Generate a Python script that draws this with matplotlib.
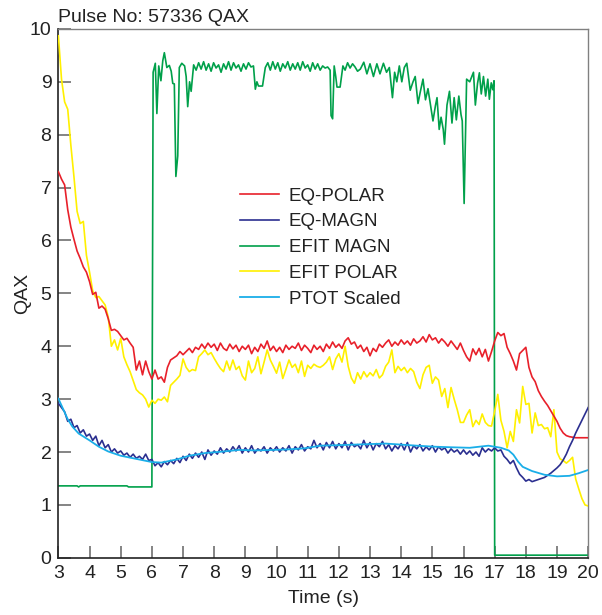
import numpy as np
import matplotlib
matplotlib.use("Agg")
import matplotlib.pyplot as plt

plt.rcParams['font.family'] = ['Liberation Sans', 'DejaVu Sans']

# ---------------------------------- Data ------------------------------------------ #
# EQ-POLAR, EQ-MAGN and EFIT POLAR sampled every 0.1 s from 3.0 s to 20.0 s
time_grid = np.linspace(3.0, 20.0, 171)

eq_polar = [
    7.30, 7.16, 7.05, 6.58, 6.25, 6.02, 5.80, 5.66, 5.50, 5.40,
    5.22, 4.98, 5.02, 4.72, 4.76, 4.70, 4.52, 4.30, 4.32, 4.28,
    4.20, 4.12, 4.15, 4.06, 3.98, 3.55, 3.72, 3.46, 3.72, 3.52,
    3.38, 3.55, 3.38, 3.42, 3.32, 3.60, 3.74, 3.78, 3.82, 3.90,
    3.84, 3.90, 3.96, 3.88, 3.98, 3.94, 4.04, 3.96, 4.06, 3.98,
    4.04, 3.92, 4.06, 3.96, 3.92, 4.04, 3.95, 4.02, 3.90, 4.00,
    3.94, 4.02, 3.86, 3.98, 3.90, 4.04, 3.96, 4.10, 3.92, 4.00,
    3.90, 3.98, 3.88, 4.02, 3.94, 4.00, 3.96, 4.06, 3.92, 4.02,
    3.96, 3.88, 4.02, 3.94, 4.00, 3.90, 4.04, 3.96, 4.08, 3.98,
    4.04, 3.96, 4.10, 4.16, 4.04, 4.08, 3.96, 4.02, 3.90, 3.98,
    3.82, 3.96, 3.90, 4.04, 3.98, 4.06, 4.12, 4.00, 4.08, 4.02,
    4.12, 4.04, 4.10, 4.02, 4.14, 4.06, 4.10, 4.18, 4.08, 4.22,
    4.12, 4.16, 4.06, 4.14, 4.08, 4.00, 4.10, 4.02, 3.94, 4.06,
    3.92, 3.80, 3.72, 3.95, 3.84, 3.96, 3.80, 3.94, 3.72, 3.90,
    4.10, 4.26, 4.20, 4.24, 3.98, 3.86, 3.72, 3.55, 3.86, 3.92,
    3.98, 3.60, 3.42, 3.33, 3.16, 3.05, 2.96, 2.88, 2.78, 2.68,
    2.58, 2.45, 2.36, 2.31, 2.29, 2.28, 2.27, 2.27, 2.27, 2.27,
    2.27]

eq_magn = [
    2.92, 2.84, 2.76, 2.58, 2.62, 2.46, 2.50, 2.36, 2.42, 2.30,
    2.34, 2.22, 2.30, 2.12, 2.22, 2.08, 2.14, 2.00, 2.06, 1.98,
    2.02, 1.94, 1.98, 1.90, 1.96, 1.88, 1.92, 1.86, 1.96, 1.84,
    1.86, 1.74, 1.80, 1.72, 1.82, 1.76, 1.84, 1.78, 1.88, 1.80,
    1.92, 1.84, 1.96, 1.88, 1.98, 1.90, 2.00, 1.86, 2.04, 1.94,
    2.02, 1.96, 2.08, 1.98, 2.06, 2.00, 2.10, 2.02, 2.12, 1.98,
    2.08, 2.00, 2.12, 1.98, 2.06, 2.02, 2.10, 1.98, 2.08, 2.02,
    2.10, 2.00, 2.08, 2.02, 2.12, 1.98, 2.10, 2.04, 2.14, 2.02,
    2.10, 2.06, 2.22, 2.08, 2.16, 2.04, 2.18, 2.08, 2.20, 2.06,
    2.16, 2.08, 2.20, 2.04, 2.18, 2.10, 2.14, 2.06, 2.22, 2.08,
    2.18, 2.04, 2.16, 2.10, 2.20, 2.06, 2.14, 2.02, 2.12, 2.06,
    2.16, 2.04, 2.18, 2.00, 2.12, 2.06, 2.14, 2.02, 2.10, 2.04,
    2.12, 2.00, 2.10, 2.04, 2.08, 1.98, 2.06, 2.00, 2.04, 1.96,
    2.04, 1.96, 2.02, 1.94, 2.00, 1.92, 2.08, 2.00, 2.06, 2.02,
    2.08, 2.02, 2.04, 1.92, 1.86, 1.78, 1.84, 1.70, 1.58, 1.52,
    1.45, 1.48, 1.44, 1.46, 1.48, 1.50, 1.52, 1.56, 1.60, 1.65,
    1.70, 1.76, 1.85, 1.96, 2.10, 2.22, 2.36, 2.48, 2.60, 2.72,
    2.84]

efit_polar = [
    9.87, 9.05, 8.62, 8.48, 7.80, 7.20, 6.55, 6.32, 6.36, 5.72,
    5.40, 5.05, 4.92, 4.94, 4.86, 4.78, 4.55, 4.00, 4.12, 3.93,
    4.15, 3.80, 3.65, 3.52, 3.35, 3.18, 3.12, 3.08, 3.00, 2.85,
    2.98, 2.92, 3.00, 2.98, 3.04, 2.95, 3.26, 3.32, 3.38, 3.45,
    3.76, 3.60, 3.52, 3.56, 3.54, 3.80, 3.86, 3.93, 3.84, 3.88,
    3.77, 3.67, 3.58, 3.52, 3.72, 3.55, 3.74, 3.56, 3.62, 3.44,
    3.36, 3.72, 3.50, 3.58, 3.80, 3.48, 3.70, 3.93, 3.74, 3.62,
    3.49, 3.70, 3.39, 3.56, 3.74, 3.60, 3.66, 3.50, 3.72, 3.43,
    3.64, 3.58, 3.66, 3.62, 3.60, 3.64, 3.70, 3.80, 3.56, 3.76,
    3.86, 3.70, 4.00, 3.62, 3.40, 3.30, 3.50, 3.38, 3.52, 3.42,
    3.50, 3.44, 3.56, 3.40, 3.46, 3.62, 3.70, 3.93, 3.50, 3.62,
    3.54, 3.60, 3.50, 3.58, 3.52, 3.32, 3.20, 3.46, 3.60, 3.64,
    3.30, 3.42, 3.36, 3.05, 3.20, 2.84, 3.22, 3.00, 2.80, 2.56,
    2.56, 2.70, 2.80, 2.48, 2.60, 2.52, 2.72, 2.56, 2.50, 2.49,
    2.77, 3.09, 2.60, 2.39, 2.08, 2.39, 2.20, 2.80, 2.55, 3.24,
    2.90, 2.92, 2.36, 2.74, 2.50, 2.52, 2.44, 2.46, 2.29, 2.80,
    2.00, 1.87, 1.84, 1.79, 1.84, 1.90, 1.49, 1.30, 1.12, 1.00,
    0.98]

# EFIT MAGN, irregular sampling
efit_magn_t = [
    3.00, 3.60, 3.65, 3.70, 5.20, 5.25, 6.00,
    6.04, 6.11, 6.16, 6.22, 6.29, 6.35, 6.40, 6.48, 6.56, 6.62, 6.67, 6.72,
    6.77, 6.83, 6.88, 6.96, 7.05, 7.10, 7.15, 7.21, 7.26, 7.34, 7.42, 7.50,
    7.58, 7.66, 7.74, 7.82, 7.90, 7.98, 8.06, 8.14, 8.22, 8.30, 8.38, 8.46,
    8.54, 8.62, 8.70, 8.78, 8.86, 8.94, 9.02, 9.10, 9.18, 9.26, 9.32, 9.37,
    9.42, 9.55, 9.64, 9.72, 9.80, 9.88, 9.96, 10.04, 10.12, 10.20, 10.28,
    10.36, 10.44, 10.52, 10.60, 10.68, 10.76, 10.84, 10.92, 11.00, 11.08,
    11.16, 11.24, 11.32, 11.40, 11.48, 11.56, 11.64, 11.72, 11.75, 11.80,
    11.85, 11.90, 11.94, 12.04, 12.13, 12.20, 12.28, 12.36, 12.44, 12.52,
    12.60, 12.69, 12.80, 12.90, 13.00, 13.11, 13.22, 13.32, 13.43, 13.53,
    13.62, 13.72, 13.79, 13.86, 13.94, 14.02, 14.10, 14.18, 14.29, 14.38,
    14.45, 14.54, 14.61, 14.70, 14.78, 14.86, 14.95, 15.02, 15.10, 15.15,
    15.22, 15.28, 15.35, 15.39, 15.47, 15.55, 15.63, 15.70, 15.77, 15.85,
    15.92, 15.96, 16.02, 16.10, 16.20, 16.32, 16.38, 16.45, 16.51, 16.57,
    16.64, 16.71, 16.78, 16.83, 16.89, 16.94, 16.98, 17.00, 20.00]
efit_magn = [
    1.36, 1.36, 1.34, 1.36, 1.36, 1.34, 1.34,
    9.18, 9.35, 8.40, 9.30, 9.02, 9.40, 9.55, 9.27, 9.31, 9.20, 8.97, 8.96,
    7.21, 7.60, 9.27, 9.35, 9.30, 9.10, 8.53, 9.00, 8.82, 9.32, 9.22, 9.36,
    9.24, 9.38, 9.22, 9.34, 9.20, 9.36, 9.26, 9.32, 9.18, 9.34, 9.24, 9.38,
    9.22, 9.36, 9.26, 9.32, 9.20, 9.34, 9.24, 9.36, 9.28, 9.30, 8.86, 9.00,
    8.92, 8.92, 9.27, 9.36, 9.22, 9.38, 9.24, 9.36, 9.20, 9.34, 9.26,
    9.38, 9.22, 9.34, 9.24, 9.36, 9.22, 9.38, 9.26, 9.32, 9.20,
    9.36, 9.24, 9.34, 9.22, 9.30, 9.26, 9.28, 9.22, 8.36, 8.30,
    9.30, 9.10, 8.90, 8.90, 9.30, 9.22, 9.36, 9.26, 9.34, 9.28,
    9.20, 9.24, 9.37, 9.15, 9.34, 9.10, 9.34, 9.15, 9.35, 9.18,
    9.27, 8.70, 9.18, 9.00, 9.30, 9.00, 9.27, 9.35, 8.84, 9.00,
    9.10, 8.59, 8.80, 9.05, 8.66, 8.87, 8.52, 8.26, 8.55, 8.70,
    8.10, 8.33, 8.10, 7.82, 8.56, 8.82, 8.22, 8.70, 8.28, 8.73,
    8.38, 8.26, 6.70, 9.05, 9.00, 9.18, 8.56, 8.97, 9.17, 8.77,
    9.10, 8.73, 9.05, 8.67, 8.98, 8.85, 9.02, 0.05, 0.05]

# PTOT Scaled (smooth)
ptot_t = [3.0, 3.1, 3.2, 3.3, 3.45, 3.65, 4.0, 4.3, 4.6, 5.0, 5.5, 6.0, 6.3,
          6.8, 7.2, 7.7, 8.3, 8.8, 9.3, 9.9, 10.4, 10.9, 11.4, 12.0, 12.5,
          13.0, 13.5, 14.0, 14.5, 15.1, 15.6, 16.2, 16.8, 17.2, 17.45, 17.6,
          17.75, 17.9, 18.2, 18.6, 19.0, 19.4, 19.7, 20.0]
ptot = [3.01, 2.88, 2.75, 2.62, 2.48, 2.35, 2.22, 2.10, 2.01, 1.93, 1.87, 1.81,
        1.80, 1.86, 1.93, 1.98, 2.01, 2.04, 2.03, 2.04, 2.05, 2.07, 2.12, 2.13,
        2.14, 2.15, 2.16, 2.14, 2.12, 2.10, 2.09, 2.08, 2.12, 2.08, 2.03, 1.95,
        1.82, 1.72, 1.64, 1.57, 1.54, 1.55, 1.60, 1.66]

x_ticks = list(range(3, 21))
y_ticks = list(range(0, 11))

# ---------------------------------- Plot ------------------------------------------ #
fig = plt.figure(figsize=(6.02, 6.15), dpi=100)
ax = fig.add_axes([0.097, 0.093, 0.880, 0.860])

ax.plot(efit_magn_t, efit_magn, color='#00a04a', lw=1.2, zorder=2, label='EFIT MAGN')
ax.plot(time_grid, efit_polar, color='#fff000', lw=1.2, zorder=3, label='EFIT POLAR')
ax.plot(time_grid, eq_polar, color='#e8202a', lw=1.2, zorder=4, label='EQ-POLAR')
ax.plot(time_grid, eq_magn, color='#2b2f90', lw=1.2, zorder=5, label='EQ-MAGN')
ax.plot(ptot_t, ptot, color='#1aaee8', lw=1.3, zorder=6, label='PTOT Scaled')

ax.set_xlim(3, 20)
ax.set_ylim(0, 10)
ax.set_xticks(x_ticks)
ax.set_yticks(y_ticks)
ax.tick_params(direction='in', length=9, width=1.2, color='#707070',
               labelsize=14, pad=5, labelcolor='#222222')

for side in ['top', 'right']:
    ax.spines[side].set_color('#808080')
    ax.spines[side].set_linewidth(1.0)
for side in ['left', 'bottom']:
    ax.spines[side].set_color('#222222')
    ax.spines[side].set_linewidth(1.2)

ax.set_xlabel('Time (s)', fontsize=14, color='#222222', labelpad=6)
ax.set_ylabel('QAX', fontsize=14, color='#222222', labelpad=-1)
ax.set_title('Pulse No: 57336 QAX', loc='left', fontsize=14, color='#222222', pad=5)

# legend in the order of the reference
handles, labels = ax.get_legend_handles_labels()
order = ['EQ-POLAR', 'EQ-MAGN', 'EFIT MAGN', 'EFIT POLAR', 'PTOT Scaled']
hmap = dict(zip(labels, handles))
leg = ax.legend([hmap[k] for k in order], order, loc='upper left',
                bbox_to_anchor=(0.343, 0.70), frameon=False, fontsize=13.5,
                handlelength=2.05, handletextpad=0.55, labelspacing=0.46,
                borderpad=0, borderaxespad=0)
for txt in leg.get_texts():
    txt.set_color('#222222')

fig.savefig('out.png', dpi=100)
